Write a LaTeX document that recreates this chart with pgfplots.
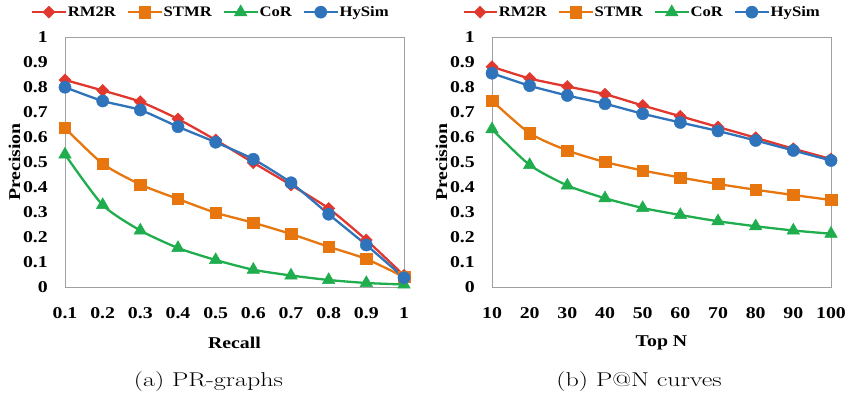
\documentclass[border=0pt]{standalone}
\usepackage{fontspec}
\usepackage{graphicx}
\usepackage{pgfplots}
\pgfplotsset{compat=1.18}
\newfontfamily\tnr{Liberation Serif}[FakeStretch=1.2]
\newfontfamily\tnrl{Liberation Serif}[FakeStretch=1.15]
\definecolor{cRed}{HTML}{E0382E}
\definecolor{cOrange}{HTML}{E8760F}
\definecolor{cGreen}{HTML}{1FAD4E}
\definecolor{cBlue}{HTML}{2F73BA}
\definecolor{cFrame}{HTML}{A0A0A0}
\pgfplotsset{
  mystyle/.style={
    scale only axis, width=339pt, height=250pt,
    clip=false,
    axis line style={cFrame, line width=0.9pt},
    tick style={draw=none},
    ymin=0, ymax=1,
    ytick={0,0.1,0.2,0.3,0.4,0.5,0.6,0.7,0.8,0.9,1},
    /pgf/number format/assume math mode=true,
    tick label style={font=\fontsize{16.5}{19}\tnr\bfseries, inner sep=0pt},
    yticklabel style={anchor=east, xshift=-17pt},
    xticklabel style={anchor=north, yshift=-20pt},
    label style={font=\fontsize{16.5}{19}\tnr\bfseries},
    xlabel style={at={(axis description cs:0.5,-0.224)}, anchor=center},
    ylabel style={at={(axis description cs:-0.149,0.5)}, anchor=center},
    legend columns=4,
    legend style={draw=none, fill=none, font=\fontsize{14.5}{17}\tnrl\bfseries, inner sep=0pt,
      nodes={inner sep=1.2pt},
      /tikz/every even column/.append style={column sep=10pt}},
    legend cell align=left,
    legend image code/.code={\draw[mark repeat=2,mark phase=2,#1] plot coordinates {(0pt,0pt)(16.5pt,0pt)(33pt,0pt)};},
    every axis plot/.append style={line width=2.3pt, smooth, tension=0.4},
  },
  sRed/.style={cRed, mark=square*, mark size=4.3pt, mark options={rotate=45, solid, fill=cRed, line width=0.4pt}},
  sOrange/.style={cOrange, mark=square*, mark size=5.7pt, mark options={solid, fill=cOrange, line width=0.4pt}},
  sGreen/.style={cGreen, mark=triangle*, mark size=7.3pt, mark options={solid, fill=cGreen, line width=0.4pt}},
  sBlue/.style={cBlue, mark=*, mark size=6.1pt, mark options={solid, fill=cBlue, line width=0.4pt}},
}
\begin{document}
\begin{tikzpicture}
\path[use as bounding box] (-65pt,-111pt) rectangle (780pt,287pt);
\begin{axis}[mystyle, at={(0pt,0pt)}, anchor=south west,
  xmin=0.1, xmax=1,
  xtick={0.1,0.2,0.3,0.4,0.5,0.6,0.7,0.8,0.9,1},
  xticklabels={0.1,0.2,0.3,0.4,0.5,0.6,0.7,0.8,0.9,1},
  yticklabels={0,0.1,0.2,0.3,0.4,0.5,0.6,0.7,0.8,0.9,1},
  xlabel={Recall}, ylabel={Precision},
  legend style={at={(axis description cs:-0.100,1.1)}, anchor=west}]
\addplot[sRed] coordinates {(0.1,0.828)(0.2,0.786)(0.3,0.741)(0.4,0.672)(0.5,0.588)(0.6,0.497)(0.7,0.408)(0.8,0.314)(0.9,0.188)(1,0.046)};
\addlegendentry{RM2R}
\addplot[sOrange] coordinates {(0.1,0.636)(0.2,0.493)(0.3,0.410)(0.4,0.352)(0.5,0.297)(0.6,0.257)(0.7,0.212)(0.8,0.161)(0.9,0.112)(1,0.040)};
\addlegendentry{STMR}
\addplot[sGreen] coordinates {(0.1,0.530)(0.2,0.328)(0.3,0.226)(0.4,0.156)(0.5,0.108)(0.6,0.069)(0.7,0.046)(0.8,0.028)(0.9,0.016)(1,0.010)};
\addlegendentry{CoR}
\addplot[sBlue] coordinates {(0.1,0.799)(0.2,0.744)(0.3,0.708)(0.4,0.641)(0.5,0.579)(0.6,0.511)(0.7,0.417)(0.8,0.291)(0.9,0.168)(1,0.037)};
\addlegendentry{HySim}
\node[font=\fontsize{20}{24}\selectfont, anchor=center] at (axis description cs:0.423,-0.38) {\scalebox{1.3}[1]{(a) PR-graphs}};
\end{axis}
\begin{axis}[mystyle, at={(427pt,0pt)}, anchor=south west,
  xmin=10, xmax=100,
  xtick={10,20,30,40,50,60,70,80,90,100},
  xticklabels={10,20,30,40,50,60,70,80,90,100},
  yticklabels={0,0.1,0.2,0.3,0.4,0.5,0.6,0.7,0.8,0.9,1},
  xlabel={Top N}, ylabel={Precision},
  legend style={at={(axis description cs:-0.088,1.1)}, anchor=west}]
\addplot[sRed] coordinates {(10,0.881)(20,0.834)(30,0.802)(40,0.771)(50,0.726)(60,0.683)(70,0.640)(80,0.597)(90,0.553)(100,0.512)};
\addlegendentry{RM2R}
\addplot[sOrange] coordinates {(10,0.745)(20,0.615)(30,0.546)(40,0.500)(50,0.466)(60,0.438)(70,0.412)(80,0.389)(90,0.368)(100,0.348)};
\addlegendentry{STMR}
\addplot[sGreen] coordinates {(10,0.631)(20,0.488)(30,0.406)(40,0.355)(50,0.316)(60,0.288)(70,0.263)(80,0.243)(90,0.226)(100,0.213)};
\addlegendentry{CoR}
\addplot[sBlue] coordinates {(10,0.855)(20,0.805)(30,0.766)(40,0.733)(50,0.693)(60,0.658)(70,0.624)(80,0.586)(90,0.546)(100,0.506)};
\addlegendentry{HySim}
\node[font=\fontsize{20}{24}\selectfont, anchor=center] at (axis description cs:0.434,-0.38) {\scalebox{1.3}[1]{(b) P@N curves}};
\end{axis}
\end{tikzpicture}
\end{document}
